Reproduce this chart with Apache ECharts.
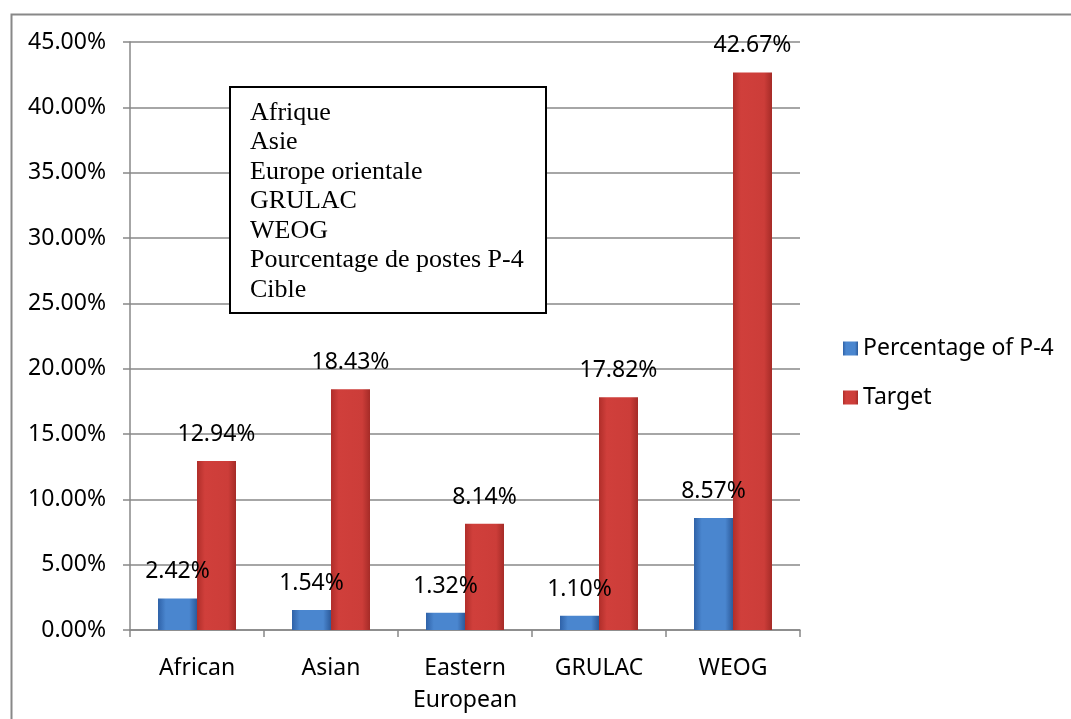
<!DOCTYPE html>
<html>
<head>
<meta charset="utf-8">
<script src="https://cdn.jsdelivr.net/npm/echarts@6/dist/echarts.min.js"></script>
<style>
html,body{margin:0;padding:0;background:#fff;}
#chart{width:1071px;height:719px;}
</style>
</head>
<body>
<div id="chart"></div>
<script>
const categories = ['African', 'Asian', 'Eastern\nEuropean', 'GRULAC', 'WEOG'];
const percentageP4 = [2.42, 1.54, 1.32, 1.10, 8.57];
const target = [12.94, 18.43, 8.14, 17.82, 42.67];
const seriesNames = ['Percentage of P-4', 'Target'];
const boxLines = ['Afrique', 'Asie', 'Europe orientale', 'GRULAC', 'WEOG', 'Pourcentage de postes P-4', 'Cible'];

const chart = echarts.init(document.getElementById('chart'));
const blueGrad = new echarts.graphic.LinearGradient(0, 0, 1, 0, [
  {offset: 0, color: '#2f62a8'},
  {offset: 0.2, color: '#4a86cf'},
  {offset: 0.8, color: '#4a86cf'},
  {offset: 1, color: '#2c5a9a'}
]);
const redGrad = new echarts.graphic.LinearGradient(0, 0, 1, 0, [
  {offset: 0, color: '#b02e2a'},
  {offset: 0.2, color: '#d03f3b'},
  {offset: 0.8, color: '#cc3d39'},
  {offset: 1, color: '#a52b27'}
]);
const labelStyle = {
  show: true, position: 'top', distance: 15,
  fontFamily: 'Noto Sans', fontSize: 23, color: '#000',
  formatter: p => p.value.toFixed(2) + '%'
};
chart.setOption({
  animation: false,
  textStyle: {fontFamily: 'Noto Sans'},
  grid: {left: 130, right: 271, top: 42, bottom: 89},
  legend: {
    orient: 'vertical', left: 843, top: 337, itemGap: 26, padding: 0,
    itemWidth: 15, itemHeight: 14, icon: 'rect',
    textStyle: {fontFamily: 'Noto Sans', fontSize: 23, color: '#000'},
    data: seriesNames
  },
  xAxis: {
    type: 'category', data: categories,
    axisLine: {lineStyle: {color: '#888', width: 1.5}},
    axisTick: {show: true, length: 7, lineStyle: {color: '#888', width: 1.5}},
    axisLabel: {interval: 0, fontFamily: 'Noto Sans', fontSize: 23, color: '#000', margin: 22, lineHeight: 32}
  },
  yAxis: {
    type: 'value', min: 0, max: 45, interval: 5,
    axisLine: {show: true, lineStyle: {color: '#888', width: 1.5}},
    axisTick: {show: true, length: 7, lineStyle: {color: '#888', width: 1.5}},
    splitLine: {lineStyle: {color: '#888', width: 1.5}},
    axisLabel: {fontFamily: 'Noto Sans', fontSize: 23, color: '#000', margin: 24,
      formatter: v => v.toFixed(2) + '%'}
  },
  series: [
    {name: seriesNames[0], type: 'bar', data: percentageP4, barWidth: 39, barGap: '0%',
     itemStyle: {color: blueGrad}, label: labelStyle},
    {name: seriesNames[1], type: 'bar', data: target, barWidth: 39, barGap: '0%',
     itemStyle: {color: redGrad}, label: labelStyle}
  ],
  graphic: [
    {type: 'rect', left: 9, top: 12, shape: {width: 1100, height: 800},
     style: {fill: 'none', stroke: '#888', lineWidth: 2}, silent: true},
    {type: 'rect', left: 229, top: 86, shape: {width: 316, height: 226},
     style: {fill: '#fff', stroke: '#000', lineWidth: 2}, z: 100},
    {type: 'text', left: 250, top: 98, z: 101,
     style: {text: boxLines.join('\n'), font: '26px "Liberation Serif"', lineHeight: 29.5, fill: '#000'}}
  ]
});
</script>
</body>
</html>
